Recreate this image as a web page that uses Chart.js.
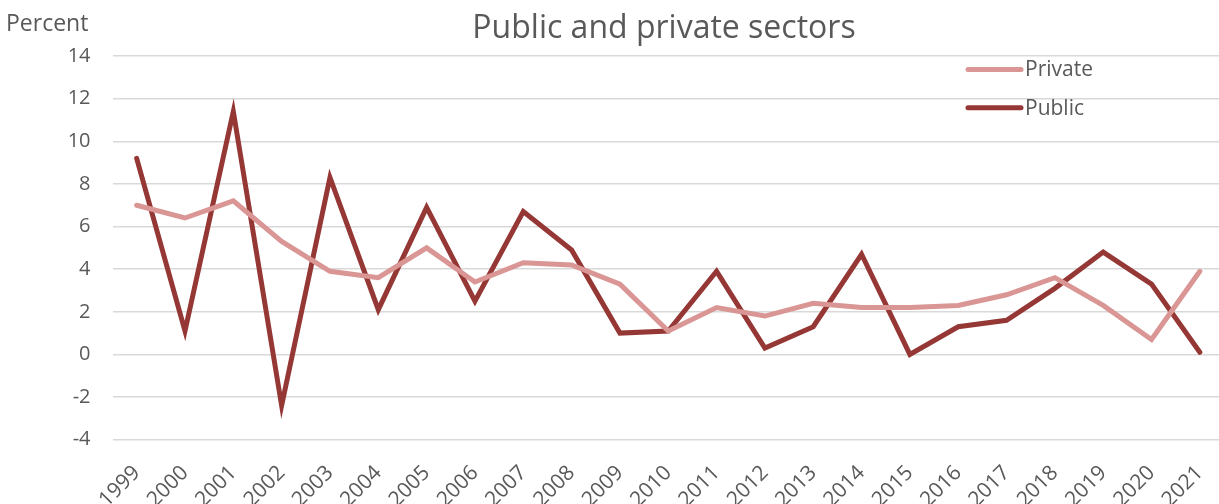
<!DOCTYPE html>
<html>
<head>
<meta charset="utf-8">
<script src="https://cdn.jsdelivr.net/npm/chart.js@4"></script>
<style>
  html, body { margin: 0; padding: 0; background: #ffffff; overflow: hidden; }
  #wrap { width: 1219px; height: 504px; overflow: hidden; }
</style>
</head>
<body>
<div id="wrap"><canvas id="chart" width="1225" height="504"></canvas></div>
<script>
// Annual change, percent
const years = ['1999','2000','2001','2002','2003','2004','2005','2006','2007','2008','2009',
               '2010','2011','2012','2013','2014','2015','2016','2017','2018','2019','2020','2021'];
const privateSector = [7.0, 6.4, 7.2, 5.3, 3.9, 3.6, 5.0, 3.4, 4.3, 4.2, 3.3,
                       1.1, 2.2, 1.8, 2.4, 2.2, 2.2, 2.3, 2.8, 3.6, 2.3, 0.7, 3.9];
const publicSector  = [9.2, 1.1, 11.4, -2.4, 8.3, 2.1, 6.9, 2.5, 6.7, 4.9, 1.0,
                       1.1, 3.9, 0.3, 1.3, 4.7, 0.0, 1.3, 1.6, 3.1, 4.8, 3.3, 0.1];
const seriesNames = ['Private', 'Public'];
const chartTitle = 'Public and private sectors';
const axisTitle = 'Percent';
const yMin = -4, yMax = 14, yStep = 2;

const TEXT = '#595959';
const FONT = '"Open Sans", "Noto Sans", sans-serif';

// Title, unit label and legend drawn at fixed spots around the plot
const decorations = {
  id: 'decorations',
  afterDraw(chart) {
    const ctx = chart.ctx;
    ctx.save();
    ctx.fillStyle = TEXT;
    ctx.textBaseline = 'alphabetic';

    ctx.font = '32px ' + FONT;
    ctx.textAlign = 'center';
    ctx.fillText(chartTitle, 664, 38);

    ctx.font = '23px ' + FONT;
    ctx.textAlign = 'left';
    ctx.fillText(axisTitle, 6, 31);

    const rows = [69.5, 107.7];
    chart.data.datasets.forEach((ds, i) => {
      const y = rows[i];
      ctx.strokeStyle = ds.borderColor;
      ctx.lineWidth = ds.borderWidth;
      ctx.lineCap = 'round';
      ctx.beginPath();
      ctx.moveTo(968, y);
      ctx.lineTo(1021, y);
      ctx.stroke();
      ctx.font = '21px ' + FONT;
      ctx.textBaseline = 'middle';
      ctx.fillStyle = TEXT;
      ctx.fillText(ds.label, 1025, y + 1);
    });
    ctx.restore();
  }
};

new Chart(document.getElementById('chart'), {
  type: 'line',
  data: {
    labels: years,
    datasets: [
      {
        label: seriesNames[0],
        data: privateSector,
        borderColor: '#d99694',
        backgroundColor: '#d99694',
        borderWidth: 5,
        borderCapStyle: 'round',
        pointRadius: 0,
        tension: 0
      },
      {
        label: seriesNames[1],
        data: publicSector,
        borderColor: '#953735',
        backgroundColor: '#953735',
        borderWidth: 5,
        borderCapStyle: 'round',
        pointRadius: 0,
        tension: 0
      }
    ]
  },
  options: {
    responsive: false,
    animation: false,
    devicePixelRatio: 1,
    layout: { padding: { top: 56, right: 1, left: 0, bottom: 0 } },
    plugins: {
      legend: { display: false },
      title: { display: false },
      tooltip: { enabled: false }
    },
    scales: {
      x: {
        offset: true,
        grid: { display: false, drawTicks: false },
        border: { display: false },
        ticks: {
          autoSkip: false,
          maxRotation: 45,
          minRotation: 45,
          padding: 21,
          color: TEXT,
          font: { family: FONT, size: 21 }
        },
        afterFit(scale) {
          scale.height = 64.3;
          scale.paddingLeft = 0;
          scale.paddingRight = 0;
        }
      },
      y: {
        min: yMin,
        max: yMax,
        grid: { color: '#d9d9d9', lineWidth: 1.5, drawTicks: false },
        border: { display: false },
        ticks: {
          stepSize: yStep,
          padding: 22,
          color: TEXT,
          font: { family: FONT, size: 20 }
        },
        afterFit(scale) { scale.width = 112.5; }
      }
    }
  },
  plugins: [decorations]
});
</script>
</body>
</html>
